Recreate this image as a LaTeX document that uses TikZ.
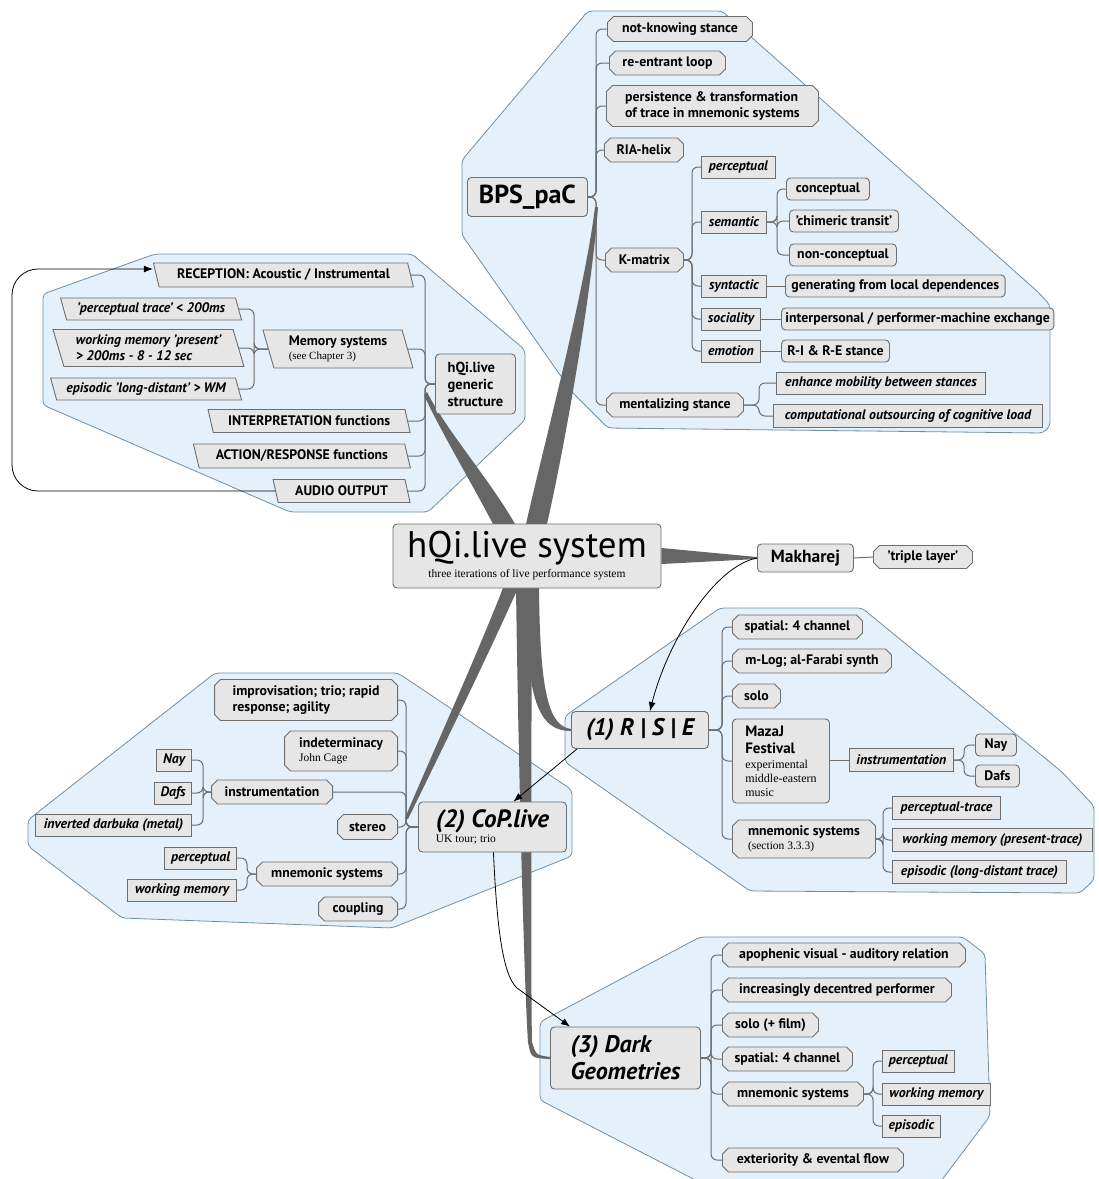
\documentclass[tikz,border=0pt]{standalone}
\usepackage{fontspec}
\setmainfont{PT Sans}
\newfontfamily\subserif{Liberation Serif}
\usetikzlibrary{shapes.misc,shapes.geometric,arrows.meta,calc}

\definecolor{clusterfill}{HTML}{E4F1FA}
\definecolor{clusterline}{HTML}{6F8FA6}
\definecolor{nodefill}{HTML}{E6E6E6}
\definecolor{nodeline}{HTML}{6E6E6E}
\definecolor{linkc}{HTML}{6E6E6E}
\definecolor{branchc}{HTML}{666666}

\pgfdeclarelayer{clusters}
\pgfdeclarelayer{links}
\pgfsetlayers{clusters,links,main}

\newcommand\fsz[2]{\fontsize{#1}{#2}\selectfont}

\tikzset{
  box/.style={draw=nodeline, fill=nodefill, line width=0.9pt, text=black,
    font=\fsz{13.8}{16}\bfseries, inner xsep=6pt, inner ysep=2pt,
    minimum height=23pt, anchor=west, align=left},
  cham/.style={box, chamfered rectangle, chamfered rectangle xsep=3pt,
    chamfered rectangle ysep=3pt},
  rnd/.style={box, rectangle, rounded corners=4pt},
  itbox/.style={box, rectangle, font=\fsz{13.8}{16}\bfseries\itshape, minimum height=22pt},
  para/.style={box, trapezium, trapezium left angle=110, trapezium right angle=70,
    trapezium stretches body, anchor=east},
  itpara/.style={para, font=\fsz{13.8}{16}\bfseries\itshape},
  cluster/.style={fill=clusterfill, draw=clusterline, line width=0.8pt, rounded corners=4pt},
  tree/.style={draw=linkc, line width=1pt, rounded corners=6pt},
  arr/.style={draw=black, line width=0.8pt, -{Latex[length=9pt,width=7pt]}},
  branch/.style={fill=branchc, draw=none},
}

\begin{document}
\begin{tikzpicture}[x=1pt,y=-1pt]
\useasboundingbox (0,0) rectangle (1099,1179);

% ---------- page and cluster backgrounds ----------
\begin{pgfonlayer}{clusters}
\path[fill=white] (0,0) rectangle (1099,1179);
\path[cluster] (588,11) -- (722,11) -- (1038,292) -- (1050,305) -- (1050,426) -- (1043,433)
  -- (608,428) -- (572,392) -- (462,235) -- (462,160) -- cycle;
\path[cluster] (155,254) -- (412,254) -- (525,350) -- (525,420) -- (428,512) -- (290,512)
  -- (43,405) -- (43,294) -- cycle;
\path[cluster] (215,673) -- (398,673) -- (572,790) -- (572,856) -- (392,928) -- (122,918)
  -- (28,846) -- (28,820) -- cycle;
\path[cluster] (720,608) -- (862,608) -- (1062,772) -- (1094,806) -- (1094,880) -- (1080,893)
  -- (750,891) -- (565,762) -- (565,716) -- cycle;
\path[cluster] (700,937) -- (963,937) -- (985,954) -- (990,1116) -- (938,1185) -- (705,1185)
  -- (540,1100) -- (540,1022) -- cycle;
\end{pgfonlayer}

% ---------- trunk positions of the trees ----------
\coordinate (bpsT) at (596,0);
\coordinate (kmT) at (692,0);
\coordinate (semT) at (777,0);
\coordinate (mentT) at (759,0);
\coordinate (genT) at (425,0);
\coordinate (memT) at (254,0);
\coordinate (copT) at (406,0);
\coordinate (cinsT) at (203,0);
\coordinate (cmnT) at (247,0);
\coordinate (rseT) at (722,0);
\coordinate (rinsT) at (964,0);
\coordinate (rmnT) at (883,0);
\coordinate (dgT) at (711,0);
\coordinate (dmnT) at (873,0);

% ---------- central node ----------
\node[rnd, anchor=center, align=center, minimum width=268, minimum height=64, inner ysep=1pt] (hq) at (527,556)
  {{\fsz{37}{38}\mdseries hQi.live system}\\[4pt]{\subserif\fsz{11.5}{13}\mdseries three iterations of live performance system}};
\node[rnd, minimum width=96, minimum height=28, font=\fsz{17.5}{20}\bfseries] (mk) at (757,558) {Makharej};
\node[cham, minimum width=99] (tl) at (873,557) {'triple layer'};

% ---------- BPS_paC ----------
\node[rnd, minimum width=120, minimum height=39, font=\fsz{26}{28}\bfseries, align=center] (bps) at (467,197) {BPS\_paC};
\node[cham, minimum width=145, minimum height=25] (nk) at (607,29) {not-knowing stance};
\node[cham, minimum width=116, minimum height=24] (re) at (609,63) {re-entrant loop};
\node[cham, minimum width=212, minimum height=41] (pt) at (606,106) {persistence \& transformation\\of trace in mnemonic systems};
\node[cham, minimum width=79, minimum height=24] (ria) at (604,150) {RIA-helix};
\node[cham, minimum width=78, minimum height=24] (km) at (605,260) {K-matrix};
\node[itbox, minimum width=74] (kp) at (701,167) {perceptual};
\node[itbox, minimum width=65] (ks) at (701,222) {semantic};
\node[rnd, minimum width=83, minimum height=22] (kc) at (786,189) {conceptual};
\node[rnd, minimum width=109, minimum height=22] (kch) at (789,221) {'chimeric transit'};
\node[rnd, minimum width=107, minimum height=22] (knc) at (789,255) {non-conceptual};
\node[itbox, minimum width=65] (ksy) at (701,286) {syntactic};
\node[rnd, minimum width=208, minimum height=22] (kg) at (785,286) {generating from local dependences};
\node[itbox, minimum width=59] (kso) at (701,319) {sociality};
\node[rnd, minimum width=262, minimum height=22, inner xsep=4pt] (ki) at (781,319) {interpersonal / performer-machine exchange};
\node[itbox, minimum width=59] (ke) at (701,351) {emotion};
\node[rnd, minimum width=108, minimum height=22] (kr) at (781,351) {R-I \& R-E stance};
\node[cham, minimum width=137, minimum height=24] (ms) at (606,405) {mentalizing stance};
\node[itbox, minimum width=209] (me) at (776,383) {enhance mobility between stances};
\node[itbox, minimum width=269, minimum height=23] (mc) at (773,416) {computational outsourcing of cognitive load};

% ---------- generic structure ----------
\node[rnd, minimum width=80, minimum height=60, font=\fsz{14.5}{17}\bfseries] (gen) at (435,384) {hQi.live\\generic\\structure};
\node[para, minimum width=260, minimum height=24] (rec) at (411,275) {RECEPTION: Acoustic / Instrumental};
\node[para, minimum width=150, minimum height=38] (mem) at (408,349) {Memory systems\\[-2pt]{\subserif\fsz{11}{13}\mdseries (see Chapter 3)}};
\node[itpara, minimum width=181, minimum height=22] (pt1) at (239,309) {'perceptual trace' < 200ms};
\node[itpara, minimum width=191, minimum height=37] (wm1) at (239,348) {working memory 'present'\\> 200ms - 8 - 12 sec};
\node[itpara, minimum width=191, minimum height=22] (ep1) at (239,389) {episodic 'long-distant' > WM};
\node[para, minimum width=202, minimum height=23] (int) at (408,421) {INTERPRETATION functions};
\node[para, minimum width=217, minimum height=24] (act) at (408,456) {ACTION/RESPONSE functions};
\node[para, minimum width=137, minimum height=23] (aud) at (408,491) {AUDIO OUTPUT};

% ---------- (1) R|S|E ----------
\node[rnd, minimum width=137, minimum height=37, font=\fsz{24}{26}\bfseries\itshape, align=center] (rse) at (571,730) {(1) R | S | E};
\node[cham, minimum width=130, minimum height=24] (r1) at (732,627) {spatial: 4 channel};
\node[cham, minimum width=159, minimum height=24] (r2) at (732,661) {m-Log; al-Farabi synth};
\node[cham, minimum width=48, minimum height=24] (r3) at (732,696) {solo};
\node[rnd, minimum width=97, minimum height=84, font=\fsz{15}{17}\bfseries, inner ysep=3pt] (r4) at (732,761)
  {MazaJ\\Festival\\[-2pt]{\subserif\fsz{12}{13}\mdseries experimental}\\[-3pt]{\subserif\fsz{12}{13}\mdseries middle-eastern}\\[-3pt]{\subserif\fsz{12}{13}\mdseries music}};
\node[itbox, minimum width=104, minimum height=23] (r5) at (849,760) {instrumentation};
\node[rnd, minimum width=41, minimum height=22] (r6) at (975,745) {Nay};
\node[rnd, minimum width=44, minimum height=22] (r7) at (975,776) {Dafs};
\node[cham, minimum width=143, minimum height=38] (r8) at (732,839) {mnemonic systems\\[-2pt]{\subserif\fsz{11.5}{13}\mdseries (section 3.3.3)}};
\node[itbox, minimum width=108, minimum height=23] (r9) at (892,808) {perceptual-trace};
\node[itbox, minimum width=200, minimum height=23] (r10) at (892,840) {working memory (present-trace)};
\node[itbox, minimum width=174, minimum height=23] (r11) at (892,872) {episodic (long-distant trace)};

% ---------- (2) CoP.live ----------
\node[rnd, minimum width=148, minimum height=50, inner ysep=2pt] (cop) at (418,827)
  {{\fsz{25}{26}\bfseries\itshape (2) CoP.live}\\[-1pt]{\subserif\fsz{11.5}{13}\mdseries UK tour; trio}};
\node[cham, anchor=east, minimum width=183, minimum height=41] (c1) at (398,700) {improvisation; trio; rapid\\response; agility};
\node[cham, anchor=east, minimum width=113, minimum height=40] (c2) at (398,751) {indeterminacy\\[-2pt]{\subserif\fsz{11.5}{13}\mdseries John Cage}};
\node[cham, anchor=east, minimum width=121, minimum height=24] (c3) at (333,792) {instrumentation};
\node[itbox, anchor=east, minimum width=35] (c4) at (192,760) {Nay};
\node[itbox, anchor=east, minimum width=35] (c5) at (192,793) {Dafs};
\node[itbox, anchor=east, minimum width=156] (c6) at (192,825) {inverted darbuka (metal)};
\node[cham, anchor=east, minimum width=60, minimum height=25] (c7) at (398,827) {stereo};
\node[cham, anchor=east, minimum width=141, minimum height=24] (c8) at (398,874) {mnemonic systems};
\node[itbox, anchor=east, minimum width=72] (c9) at (237,858) {perceptual};
\node[itbox, anchor=east, minimum width=109] (c10) at (237,890) {working memory};
\node[cham, anchor=east, minimum width=79, minimum height=24] (c11) at (398,909) {coupling};

% ---------- (3) Dark Geometries ----------
\node[rnd, minimum width=150, minimum height=62, font=\fsz{24}{27}\bfseries\itshape] (dg) at (550,1058) {(3) Dark\\Geometries};
\node[cham, minimum width=243, minimum height=24] (d1) at (722,955) {apophenic visual - auditory relation};
\node[cham, minimum width=229, minimum height=24] (d2) at (722,990) {increasingly decentred performer};
\node[cham, minimum width=96, minimum height=24] (d3) at (722,1025) {solo (+ film)};
\node[cham, minimum width=130, minimum height=24] (d4) at (722,1059) {spatial: 4 channel};
\node[cham, minimum width=141, minimum height=24] (d5) at (722,1094) {mnemonic systems};
\node[itbox, minimum width=72] (d6) at (882,1061) {perceptual};
\node[itbox, minimum width=108] (d7) at (882,1094) {working memory};
\node[itbox, minimum width=58] (d8) at (882,1126) {episodic};
\node[cham, minimum width=181, minimum height=24] (d9) at (722,1160) {exteriority \& evental flow};

\begin{pgfonlayer}{links}
% ---------- tree connectors ----------
\foreach \c in {nk,re,pt,ria,km,ms} \draw[tree] (bps.east) -- (bps.east -| bpsT) |- (\c.west);
\foreach \c in {kp,ks,ksy,kso,ke} \draw[tree] (km.east) -- (km.east -| kmT) |- (\c.west);
\foreach \c in {kc,kch,knc} \draw[tree] (ks.east) -- (ks.east -| semT) |- (\c.west);
\draw[tree] (ksy) -- (kg);
\draw[tree] (kso) -- (ki);
\draw[tree] (ke) -- (kr);
\foreach \c in {me,mc} \draw[tree] (ms.east) -- (ms.east -| mentT) |- (\c.west);

\foreach \c in {rec,mem,int,act,aud} \draw[tree] (gen.west) -- (gen.west -| genT) |- (\c.east);
\foreach \c in {pt1,wm1,ep1} \draw[tree] (mem.west) -- (mem.west -| memT) |- (\c.east);

\foreach \c in {c1,c2,c3,c7,c8,c11} \draw[tree] (cop.west) -- (cop.west -| copT) |- (\c.east);
\foreach \c in {c4,c5,c6} \draw[tree] (c3.west) -- (c3.west -| cinsT) |- (\c.east);
\foreach \c in {c9,c10} \draw[tree] (c8.west) -- (c8.west -| cmnT) |- (\c.east);

\foreach \c in {r1,r2,r3,r4,r8} \draw[tree] (rse.east) -- (rse.east -| rseT) |- (\c.west);
\draw[tree] (r4.east |- r5.west) -- (r5.west);
\foreach \c in {r6,r7} \draw[tree] (r5.east) -- (r5.east -| rinsT) |- (\c.west);
\foreach \c in {r9,r10,r11} \draw[tree] (r8.east) -- (r8.east -| rmnT) |- (\c.west);

\foreach \c in {d1,d2,d3,d4,d5,d9} \draw[tree] (dg.east) -- (dg.east -| dgT) |- (\c.west);
\foreach \c in {d6,d7,d8} \draw[tree] (d5.east) -- (d5.east -| dmnT) |- (\c.west);

\draw[tree] (mk.east) -- (tl.west);

% ---------- tapered main branches ----------
\fill[branch] (526,524) .. controls (545,440) and (585,290) .. (595,207)
  -- (598,207) .. controls (592,290) and (566,440) .. (547,524) -- cycle;
\fill[branch] (493,524) .. controls (470,480) and (440,430) .. (424,395)
  -- (427,392) .. controls (446,430) and (490,480) .. (515,524) -- cycle;
\fill[branch] (503,588) .. controls (475,660) and (425,770) .. (405,818)
  -- (408,819) .. controls (432,770) and (486,660) .. (518,588) -- cycle;
\fill[branch] (525,588) .. controls (527,690) and (534,731) .. (571,731)
  -- (571,729) .. controls (548,726) and (540,690) .. (539,588) -- cycle;
\fill[branch] (516,588) .. controls (519,800) and (525,1000) .. (528,1042)
  .. controls (531,1058) .. (550,1059) -- (550,1057)
  .. controls (536,1055) .. (532,1042) .. controls (531,1000) and (531,800) .. (532,588) -- cycle;
\fill[branch] ($(hq.east)+(0,-8)$) -- ($(mk.west)+(0,-1)$) -- ($(mk.west)+(0,1)$) -- ($(hq.east)+(0,8)$) -- cycle;
\end{pgfonlayer}

% ---------- arrows ----------
\draw[arr, rounded corners=26pt] (aud.west) -- (12,491) -- (12,269) -- ($(rec.west)+(-3,-6)$);
\draw[arr] (mk.west) .. controls (715,566) and (668,640) .. ($(rse.north)+(10,0)$);
\draw[arr] ($(rse.south west)+(6,0)$) -- ($(cop.north)+(21,0)$);
\draw[arr] ($(cop.south)+(1,0)$) .. controls (497,930) and (503,975) .. (517,988) -- ($(dg.north west)+(20,0)$);
\end{tikzpicture}
\end{document}
